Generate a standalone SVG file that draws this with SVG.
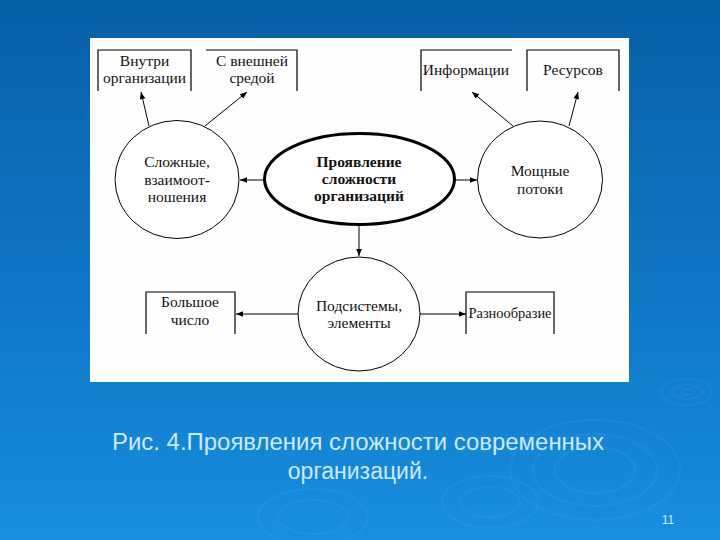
<svg xmlns="http://www.w3.org/2000/svg" width="720" height="540" viewBox="0 0 720 540">
  <defs>
    <linearGradient id="bg" x1="0" y1="0" x2="0" y2="1">
      <stop offset="0" stop-color="#0860a5"/>
      <stop offset="0.55" stop-color="#0f76c6"/>
      <stop offset="1" stop-color="#188edf"/>
    </linearGradient>
    <marker id="ah" viewBox="0 0 10 10" refX="10" refY="5" markerWidth="9" markerHeight="7" markerUnits="userSpaceOnUse" orient="auto">
      <path d="M0,1 L10,5 L0,9 Z" fill="#000"/>
    </marker>
    <style>
      .t { font-family: "Liberation Serif", "DejaVu Serif", serif; font-size: 15.5px; fill: #111; text-anchor: middle; }
      .b { font-weight: bold; }
      .box { fill: none; stroke: #000; stroke-width: 1.2; }
      .node { fill: #fff; stroke: #000; stroke-width: 1; }
      .conn { fill: none; stroke: #000; stroke-width: 1; marker-end: url(#ah); }
      .rip { fill: none; stroke: #5ab4f2; stroke-opacity: 0.13; stroke-width: 2; }
      .cap { font-family: "Liberation Sans", Arial, sans-serif; font-size: 23px; fill: #cdeafc; text-anchor: middle; }
    </style>
  </defs>

  <rect x="0" y="0" width="720" height="540" fill="url(#bg)"/>

  <g id="ripples">
    <ellipse class="rip" cx="687" cy="392" rx="25" ry="13"/>
    <ellipse class="rip" cx="687" cy="392" rx="15" ry="7"/>
    <ellipse class="rip" cx="687" cy="392" rx="6" ry="3"/>
    <ellipse class="rip" cx="595" cy="470" rx="85" ry="50"/>
    <ellipse class="rip" cx="595" cy="470" rx="62" ry="36"/>
    <ellipse class="rip" cx="595" cy="470" rx="40" ry="23"/>
    <ellipse class="rip" cx="313" cy="517" rx="55" ry="28"/>
    <ellipse class="rip" cx="313" cy="517" rx="35" ry="17"/>
    <ellipse class="rip" cx="490" cy="502" rx="48" ry="26"/>
    <ellipse class="rip" cx="490" cy="502" rx="30" ry="15"/>
  </g>

  <rect x="90" y="38" width="539" height="344" fill="#fefefe"/>

  <g id="connectors">
    <line class="conn" x1="264" y1="180" x2="240" y2="180"/>
    <line class="conn" x1="455" y1="180" x2="477" y2="180"/>
    <line class="conn" x1="359" y1="225" x2="359" y2="256"/>
    <line class="conn" x1="149" y1="126" x2="141" y2="92"/>
    <line class="conn" x1="205" y1="126" x2="247" y2="92"/>
    <line class="conn" x1="513" y1="126" x2="472" y2="92"/>
    <line class="conn" x1="569" y1="126" x2="578" y2="92"/>
    <line class="conn" x1="298" y1="314" x2="236" y2="314"/>
    <line class="conn" x1="420" y1="314" x2="466" y2="314"/>
  </g>

  <g id="box-vnutri">
    <path class="box" d="M98,91 V50 H191 V91"/>
    <text class="t" x="144.5" y="66">Внутри</text>
    <text class="t" x="144.5" y="83">организации</text>
  </g>
  <g id="box-vneshney">
    <path class="box" d="M206,50 H297 V91"/>
    <text class="t" x="252" y="66">С внешней</text>
    <text class="t" x="252" y="83">средой</text>
  </g>
  <g id="box-informacii">
    <path class="box" d="M421,91 V50 H512"/>
    <text class="t" x="466" y="75">Информации</text>
  </g>
  <g id="box-resursov">
    <path class="box" d="M527,91 V50 H619 V91"/>
    <text class="t" x="573" y="75">Ресурсов</text>
  </g>
  <g id="box-bolshoe">
    <path class="box" d="M146,334 V292 H235 V334"/>
    <text class="t" x="190" y="307">Большое</text>
    <text class="t" x="190" y="325">число</text>
  </g>
  <g id="box-raznoobrazie">
    <path class="box" d="M466,334 V292 H554 V334"/>
    <text class="t" x="510" y="318" textLength="83" lengthAdjust="spacingAndGlyphs">Разнообразие</text>
  </g>

  <g id="node-slozhnye">
    <ellipse class="node" cx="177" cy="179.5" rx="62" ry="59"/>
    <text class="t" x="177" y="167">Сложные,</text>
    <text class="t" x="177" y="185">взаимоот-</text>
    <text class="t" x="177" y="202">ношения</text>
  </g>
  <g id="node-center">
    <ellipse cx="359.5" cy="179" rx="95" ry="45.5" fill="#fff" stroke="#000" stroke-width="3"/>
    <text class="t b" x="359" y="167">Проявление</text>
    <text class="t b" x="359" y="184">сложности</text>
    <text class="t b" x="359" y="201">организаций</text>
  </g>
  <g id="node-moshchnye">
    <ellipse class="node" cx="540" cy="179.5" rx="62.5" ry="58.5"/>
    <text class="t" x="540" y="176">Мощные</text>
    <text class="t" x="540" y="194">потоки</text>
  </g>
  <g id="node-podsistemy">
    <ellipse class="node" cx="359" cy="314" rx="61" ry="57"/>
    <text class="t" x="359" y="311">Подсистемы,</text>
    <text class="t" x="359" y="328">элементы</text>
  </g>

  <g id="caption">
    <text class="cap" x="358" y="450" textLength="492" lengthAdjust="spacingAndGlyphs">Рис. 4.Проявления сложности современных</text>
    <text class="cap" x="358" y="479">организаций.</text>
    <text x="668" y="524" font-family="Liberation Sans, Arial, sans-serif" font-size="12" fill="#cfeaff" text-anchor="middle">11</text>
  </g>
</svg>
